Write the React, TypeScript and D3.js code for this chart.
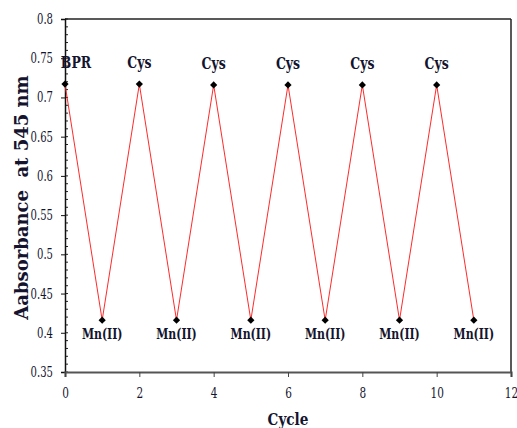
import React, { useRef, useEffect } from 'react';
import * as d3 from 'd3';

const cycles = [0, 1, 2, 3, 4, 5, 6, 7, 8, 9, 10, 11];
const absorbance = [0.717, 0.416, 0.717, 0.416, 0.716, 0.416, 0.716, 0.416, 0.716, 0.416, 0.716, 0.416];
const pointLabels = ['BPR', 'Mn(II)', 'Cys', 'Mn(II)', 'Cys', 'Mn(II)', 'Cys', 'Mn(II)', 'Cys', 'Mn(II)', 'Cys', 'Mn(II)'];
const xTicks = [0, 2, 4, 6, 8, 10, 12];
const yTicks = [0.35, 0.4, 0.45, 0.5, 0.55, 0.6, 0.65, 0.7, 0.75, 0.8];

const App = () => {
  const ref = useRef<SVGSVGElement>(null);

  useEffect(() => {
    if (!ref.current) return;
    const svg = d3.select(ref.current);
    svg.selectAll('*').remove();

    const margin = { top: 19, right: 6, bottom: 56, left: 65 };
    const width = 517;
    const height = 428;
    const font = '"DejaVu Serif", "Liberation Serif", serif';
    const ink = '#14142e';

    const x = d3.scaleLinear().domain([0, 12]).range([margin.left, width - margin.right]);
    const y = d3.scaleLinear().domain([0.35, 0.8]).range([height - margin.bottom, margin.top]);

    // frame
    svg.append('line')
      .attr('x1', x(0)).attr('x2', x(12)).attr('y1', y(0.8)).attr('y2', y(0.8))
      .attr('stroke', '#222').attr('stroke-width', 1.5);
    svg.append('line')
      .attr('x1', x(12)).attr('x2', x(12)).attr('y1', y(0.8)).attr('y2', y(0.35))
      .attr('stroke', '#222').attr('stroke-width', 1.5);

    // y minor ticks (inward)
    const minor = d3.range(0.35, 0.8001, 0.01);
    svg.append('g').selectAll('line').data(minor).enter().append('line')
      .attr('x1', x(0)).attr('x2', x(0) + 3)
      .attr('y1', (d) => y(d)).attr('y2', (d) => y(d))
      .attr('stroke', '#222').attr('stroke-width', 1);

    const yAxis = d3.axisLeft(y).tickValues(yTicks).tickSize(4).tickPadding(8)
      .tickFormat((d) => String(+(+d).toFixed(2)));
    const yg = svg.append('g').attr('transform', `translate(${x(0)},0)`).call(yAxis);
    yg.attr('font-family', null).attr('font-size', null);
    yg.select('.domain').attr('stroke', '#111').attr('stroke-width', 1.5);
    yg.selectAll('.tick line').attr('stroke', '#111');
    yg.selectAll('.tick text')
      .style('font-family', font).style('font-size', '14px').attr('fill', ink)
      .attr('transform', 'scale(0.72,1)').attr('x', -12 / 0.72);

    const xAxis = d3.axisBottom(x).tickValues(xTicks).tickSize(5).tickPadding(11)
      .tickFormat((d) => String(d));
    const xg = svg.append('g').attr('transform', `translate(0,${y(0.35)})`).call(xAxis);
    xg.attr('font-family', null).attr('font-size', null);
    xg.select('.domain').attr('stroke', '#555').attr('stroke-width', 2.2);
    xg.selectAll('.tick line').attr('stroke', '#444');
    xg.selectAll('.tick text')
      .style('font-family', font).style('font-size', '14px').attr('fill', ink)
      .attr('transform', 'scale(0.75,1)');

    // line
    const line = d3.line<number>()
      .x((d, i) => x(cycles[i]))
      .y((d) => y(d));
    svg.append('path').datum(absorbance)
      .attr('d', line)
      .attr('fill', 'none')
      .attr('stroke', '#ff2a2a')
      .attr('stroke-width', 1);

    // markers
    const diamond = d3.symbol().type(d3.symbolSquare).size(26);
    svg.append('g').selectAll('path').data(absorbance).enter().append('path')
      .attr('d', diamond)
      .attr('transform', (d, i) => `translate(${x(cycles[i])},${y(d)}) rotate(45)`)
      .attr('fill', '#000');

    // point labels
    svg.append('g').selectAll('text').data(pointLabels).enter().append('text')
      .attr('transform', (d, i) => {
        const px = x(cycles[i]) + (d === 'BPR' ? 11 : 0);
        const py = y(absorbance[i]) + (d === 'Mn(II)' ? 19 : -16);
        return `translate(${px},${py}) scale(0.78,1)`;
      })
      .attr('text-anchor', 'middle')
      .style('font-family', font)
      .style('font-weight', 'bold')
      .style('font-size', (d) => (d === 'Mn(II)' ? '14px' : '16px'))
      .attr('fill', ink)
      .text((d) => d);

    // axis titles
    svg.append('text')
      .attr('transform', `translate(${(x(0) + x(12)) / 2},425) scale(0.8,1)`)
      .attr('text-anchor', 'middle')
      .style('font-family', font).style('font-weight', 'bold').style('font-size', '17px')
      .attr('fill', ink)
      .text('Cycle');
    svg.append('text')
      .attr('transform', `translate(28,${(y(0.35) + y(0.8)) / 2 + 2}) rotate(-90)`)
      .attr('text-anchor', 'middle')
      .style('font-family', font).style('font-weight', 'bold').style('font-size', '18px')
      .style('white-space', 'pre')
      .attr('fill', ink)
      .text('Aabsorbance  at 545 nm');
  }, []);

  return (
    <svg ref={ref} width={517} height={428} style={{ position: 'absolute', left: 0, top: 0, background: '#fff' }} />
  );
};

export default App;
